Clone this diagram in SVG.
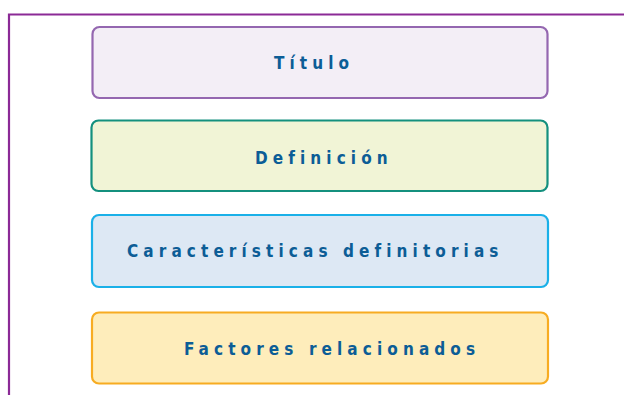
<svg xmlns="http://www.w3.org/2000/svg" width="624" height="395" viewBox="0 0 624 395">
<style>
.box{stroke-width:2.2}
.lbl{font-family:"DejaVu Sans Condensed","DejaVu Sans",sans-serif;font-weight:bold;font-size:17px;fill:#0c5d96;letter-spacing:5.1px}
</style>
<rect width="624" height="395" fill="#ffffff"/>
<g id="frame">
<path d="M9,395 V14.5 H624" fill="none" stroke="#8b2a96" stroke-width="2.2"/>
</g>
<g id="titulo">
<rect class="box" x="92.5" y="27" width="455" height="71" rx="7" fill="#f3eef6" stroke="#9467b0"/>
<text class="lbl" x="274" y="69">Título</text>
</g>
<g id="definicion">
<rect class="box" x="91.5" y="120.5" width="456" height="70.5" rx="7" fill="#f1f4d6" stroke="#14907e"/>
<text class="lbl" x="255" y="164">Definición</text>
</g>
<g id="caracteristicas">
<rect class="box" x="92" y="215" width="456" height="72" rx="7" fill="#dde8f4" stroke="#1ab0e8"/>
<text class="lbl" x="127" y="257">Características definitorias</text>
</g>
<g id="factores">
<rect class="box" x="92" y="312.5" width="456" height="71" rx="7" fill="#feedbb" stroke="#f7ac22"/>
<text class="lbl" x="184" y="355">Factores relacionados</text>
</g>
<g id="connectors"></g>
</svg>
